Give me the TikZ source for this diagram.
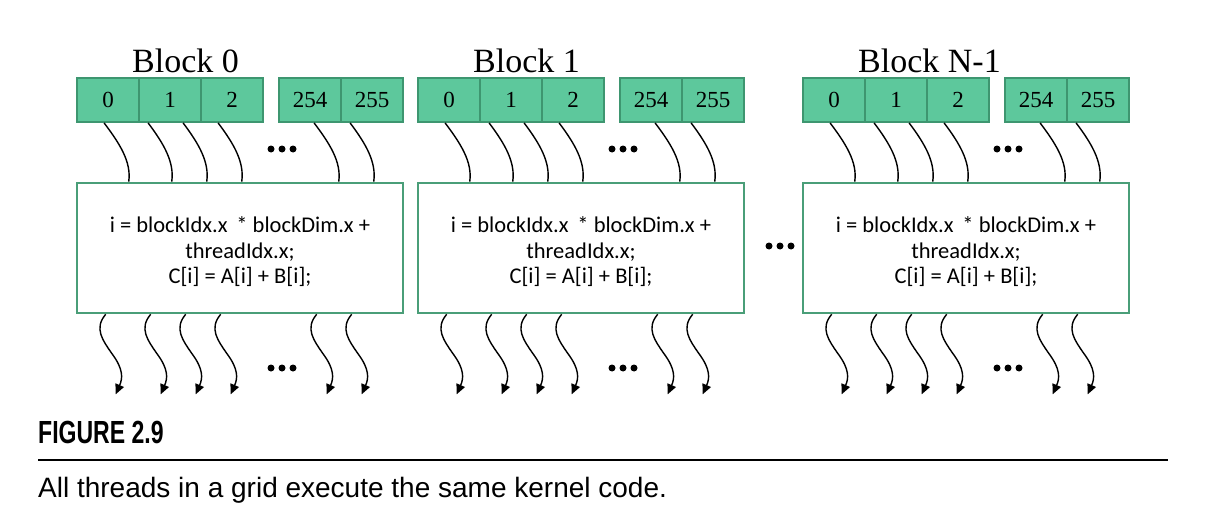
\documentclass[tikz,border=0pt]{standalone}
\usepackage{fontspec}
\setmainfont{Liberation Serif}
\newfontfamily\codefont{Carlito}
\newfontfamily\capfont{Liberation Sans}
\newfontfamily\capboldfont[FakeStretch=0.72]{Liberation Sans Bold}
\usetikzlibrary{arrows.meta,calc}

\definecolor{cellfill}{RGB}{93,200,156}
\definecolor{cellline}{RGB}{62,150,112}
\definecolor{boxline}{RGB}{74,158,120}

\tikzset{
  cell/.style={draw=cellline, line width=1.8pt, fill=cellfill,
    minimum width=62pt, minimum height=44pt, inner sep=0pt,
    font=\fontsize{23}{23}\selectfont},
  kernel/.style={draw=boxline, line width=2.6pt, fill=white,
    minimum width=326pt, minimum height=130pt},
  kerneltext/.style={align=center, inner sep=0pt,
    font=\codefont\fontsize{22.5}{25.5}\selectfont},
  blocklabel/.style={anchor=base west, inner sep=0pt,
    font=\fontsize{34}{34}\selectfont},
  thread/.style={line width=1.4pt, black},
  outthread/.style={thread, -{Triangle[length=10pt,width=9pt]}},
  dot/.style={circle, fill=black, inner sep=0pt, minimum size=7pt},
}

\begin{document}
\begin{tikzpicture}[x=1pt, y=-1pt]
  \useasboundingbox (0,0) rectangle (1206,508);

  \foreach \b/\L/\lbl in {0/77/0, 1/418/1, 2/803/N-1} {
    % block title
    \node[blocklabel] (b\b lbl) at (\L+55,73) {Block \lbl};
    % thread cells
    \node[cell] (b\b c0)   at (\L+31,100)  {0};
    \node[cell] (b\b c1)   at (\L+93,100)  {1};
    \node[cell] (b\b c2)   at (\L+155,100) {2};
    \node[cell] (b\b c254) at (\L+233,100) {254};
    \node[cell] (b\b c255) at (\L+295,100) {255};
    % kernel body
    \node[kernel] (b\b k) at (\L+163,248) {};
    \node[kerneltext] (b\b t) at ([yshift=-4pt]b\b k.center)
      {i = blockIdx.x\, * blockDim.x +\\threadIdx.x;\\C[i] = A[i] + B[i];};

    % threads entering the kernel
    \foreach \cel/\sx/\ex in {c0/28/53, c1/10/96, c1/45/131, c2/18/166, c254/36/263, c255/10/298} {
      \draw[thread] ([xshift=\sx pt]b\b \cel.south west)
        .. controls +(15,20) and +(3,-20) .. ([xshift=\ex pt]b\b k.north west);
    }

    % threads leaving the kernel
    \foreach \i/\sx in {1/30, 2/75, 3/110, 4/145, 5/241, 6/276} {
      \coordinate (b\b s\i) at ([xshift=\sx pt]b\b k.south west);
      \coordinate (b\b m\i) at ($(b\b s\i)+(6,39)$);
      \coordinate (b\b o\i) at ($(b\b s\i)+(10,80)$);
      \draw[outthread] (b\b s\i)
        .. controls +(-12,14) and +(-9,-13) .. (b\b m\i)
        .. controls +(12,16) and +(7,-16) .. (b\b o\i);
    }

    % ellipses between threads
    \foreach \k in {-11,0,11} {
      \node[dot] at (\L+205+\k,149) {};
      \node[dot] at (\L+205+\k,368) {};
    }
  }

  % ellipsis between blocks
  \foreach \k in {-11,0,11}
    \node[dot] at (780+\k,246) {};

  % caption
  \node[anchor=base west, inner sep=0pt, font=\capboldfont\fontsize{32}{32}\selectfont]
    (figno) at (38,443) {FIGURE 2.9};
  \coordinate (ruleL) at (38,460);
  \coordinate (ruleR) at (1168,460);
  \draw[line width=2.4pt] (ruleL) -- (ruleR);
  \node[anchor=base west, inner sep=0pt, font=\capfont\fontsize{28}{28}\selectfont]
    (captxt) at (38,497) {All threads in a grid execute the same kernel code.};
\end{tikzpicture}
\end{document}
